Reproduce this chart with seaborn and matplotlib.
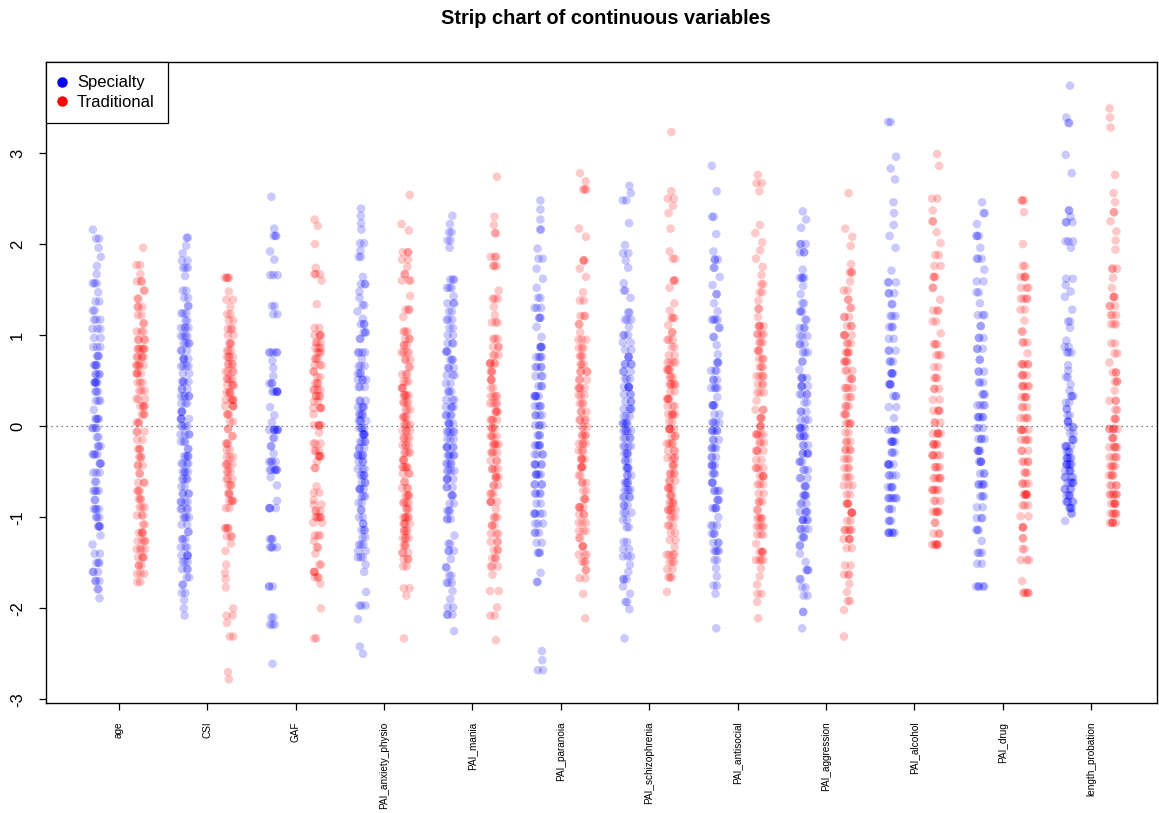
import numpy as np
import pandas as pd
import matplotlib
matplotlib.use("Agg")
import matplotlib.pyplot as plt
import seaborn as sns
from matplotlib.lines import Line2D

plt.rcParams["font.family"] = ["Liberation Sans", "DejaVu Sans"]

variables = ["age", "CSI", "GAF", "PAI_anxiety_physio", "PAI_mania", "PAI_paranoia",
             "PAI_schizophrenia", "PAI_antisocial", "PAI_aggression", "PAI_alcohol",
             "PAI_drug", "length_probation"]
groups = ["Specialty", "Traditional"]
colors = {"Specialty": "#0000ff", "Traditional": "#ff0000"}

# standardized values (levels) and how many points sit at each level
age_spec_y = [2.16, 2.06, 1.96, 1.86, 1.76, 1.67, 1.57, 1.47, 1.37, 1.27, 1.17, 1.07, 0.97, 0.87, 0.77,
              0.67, 0.57, 0.48, 0.38, 0.28, 0.18, 0.08, -0.02, -0.12, -0.22, -0.31, -0.41, -0.51, -0.61, -0.71,
              -0.81, -0.91, -1.0, -1.1, -1.2, -1.3, -1.4, -1.5, -1.6, -1.7, -1.79, -1.89]
age_spec_n = [1, 2, 1, 1, 1, 1, 3, 1, 2, 2, 3, 3, 2, 3, 3,
              4, 4, 5, 3, 3, 1, 4, 4, 2, 3, 4, 3, 3, 2, 4,
              2, 4, 3, 4, 1, 1, 2, 3, 3, 3, 2, 1]
age_trad_y = [1.96, 1.77, 1.67, 1.59, 1.49, 1.40, 1.31, 1.22, 1.13, 1.04, 0.95, 0.85, 0.76, 0.67, 0.58,
              0.48, 0.39, 0.30, 0.22, 0.13, 0.04, -0.06, -0.15, -0.25, -0.34, -0.43, -0.52, -0.62, -0.71, -0.80,
              -0.89, -0.98, -1.08, -1.17, -1.26, -1.35, -1.44, -1.53, -1.62, -1.71]
age_trad_n = [1, 2, 1, 3, 2, 2, 3, 2, 2, 3, 4, 6, 5, 5, 4,
              3, 3, 3, 4, 3, 3, 3, 2, 3, 3, 3, 2, 3, 3, 3,
              3, 3, 2, 4, 4, 4, 4, 3, 3, 2]

csi_spec_y = [2.07, 1.98, 1.90, 1.82, 1.74, 1.65, 1.49, 1.41, 1.32, 1.24, 1.16, 1.08, 0.99, 0.91, 0.83,
              0.74, 0.66, 0.58, 0.49, 0.41, 0.33, 0.25, 0.16, 0.08, 0.0, -0.09, -0.17, -0.25, -0.33, -0.41,
              -0.50, -0.58, -0.66, -0.74, -0.83, -0.91, -1.0, -1.08, -1.16, -1.24, -1.33, -1.42, -1.49, -1.57, -1.66,
              -1.74, -1.83, -1.91, -2.0, -2.08]
csi_spec_n = [2, 1, 1, 2, 3, 1, 2, 2, 2, 3, 2, 4, 4, 4, 3,
              4, 4, 2, 4, 3, 5, 3, 3, 4, 4, 4, 3, 2, 4, 4,
              4, 4, 2, 4, 4, 4, 4, 2, 2, 3, 3, 4, 3, 3, 2,
              2, 2, 1, 1, 1]
csi_trad_y = [1.63, 1.48, 1.39, 1.31, 1.23, 1.16, 1.07, 1.0, 0.91, 0.83, 0.76, 0.68, 0.60, 0.52, 0.45,
              0.37, 0.29, 0.22, 0.13, 0.05, -0.03, -0.11, -0.19, -0.26, -0.34, -0.42, -0.50, -0.58, -0.65, -0.74,
              -0.82, -0.90, -1.12, -1.21, -1.29, -1.37, -1.52, -1.61, -1.68, -1.77, -2.0, -2.08, -2.16, -2.31, -2.70,
              -2.78]
csi_trad_n = [4, 1, 2, 1, 2, 2, 3, 2, 3, 3, 4, 4, 4, 4, 4,
              4, 5, 4, 3, 2, 2, 2, 3, 2, 3, 4, 3, 3, 3, 3,
              4, 2, 4, 3, 1, 1, 1, 1, 1, 1, 1, 2, 1, 2, 1,
              1]

gaf_spec_y = [2.52, 2.17, 2.09, 1.92, 1.83, 1.66, 1.32, 1.23, 0.81, 0.72, 0.64, 0.55, 0.47, 0.38, 0.21,
              0.12, 0.04, -0.04, -0.13, -0.22, -0.30, -0.39, -0.48, -0.56, -0.65, -0.82, -0.90, -1.24, -1.33, -1.76,
              -2.10, -2.18, -2.61]
gaf_spec_n = [1, 1, 3, 1, 1, 3, 2, 2, 5, 1, 1, 1, 3, 6, 1,
              1, 1, 7, 2, 2, 1, 4, 6, 1, 1, 1, 4, 3, 4, 3,
              2, 3, 1]
gaf_trad_y = [2.27, 2.20, 2.0, 1.74, 1.67, 1.60, 1.34, 1.08, 1.0, 0.92, 0.86, 0.81, 0.74, 0.67, 0.60,
              0.54, 0.47, 0.40, 0.33, 0.27, 0.20, 0.13, 0.01, -0.07, -0.19, -0.27, -0.33, -0.39, -0.46, -0.66,
              -0.73, -0.81, -0.86, -0.93, -1.0, -1.06, -1.20, -1.26, -1.33, -1.40, -1.52, -1.60, -1.66, -1.73, -2.0,
              -2.33]
gaf_trad_n = [1, 1, 1, 1, 3, 1, 1, 2, 4, 3, 3, 3, 3, 3, 2,
              2, 3, 4, 4, 2, 4, 1, 5, 1, 3, 3, 4, 1, 2, 1,
              2, 1, 2, 3, 5, 2, 3, 1, 2, 1, 2, 3, 3, 1, 1,
              2]

anx_spec_y = [2.39, 2.31, 2.23, 2.16, 2.01, 1.93, 1.86, 1.64, 1.56, 1.48, 1.41, 1.33, 1.26, 1.18, 1.12,
              1.03, 0.96, 0.81, 0.74, 0.66, 0.58, 0.51, 0.43, 0.28, 0.21, 0.13, 0.06, -0.02, -0.09, -0.17,
              -0.24, -0.32, -0.39, -0.47, -0.54, -0.62, -0.69, -0.77, -0.84, -0.92, -1.0, -1.07, -1.14, -1.22, -1.30,
              -1.37, -1.44, -1.52, -1.60, -1.82, -1.97, -2.12, -2.42, -2.50]
anx_spec_n = [1, 1, 1, 1, 2, 1, 2, 1, 3, 1, 1, 2, 1, 1, 3,
              3, 2, 4, 1, 3, 3, 4, 3, 3, 4, 4, 4, 4, 5, 4,
              3, 5, 3, 3, 4, 3, 4, 3, 2, 2, 2, 2, 3, 2, 3,
              2, 3, 1, 1, 1, 3, 1, 1, 1]
anx_trad_y = [2.54, 2.22, 2.15, 1.91, 1.83, 1.75, 1.67, 1.60, 1.43, 1.28, 1.20, 1.04, 0.96, 0.89, 0.81,
              0.73, 0.65, 0.57, 0.49, 0.42, 0.34, 0.26, 0.18, 0.10, 0.02, -0.05, -0.13, -0.21, -0.29, -0.37,
              -0.45, -0.52, -0.61, -0.68, -0.76, -0.84, -0.91, -1.0, -1.07, -1.15, -1.23, -1.31, -1.39, -1.46, -1.54,
              -1.78, -1.86, -2.33]
anx_trad_n = [1, 1, 1, 3, 2, 1, 2, 3, 1, 3, 1, 3, 3, 3, 4,
              3, 2, 3, 3, 3, 5, 4, 3, 4, 4, 4, 4, 4, 4, 3,
              5, 3, 2, 3, 4, 4, 3, 5, 4, 4, 4, 3, 3, 3, 2,
              2, 1, 1]

mania_spec_y = [2.31, 2.22, 2.13, 2.04, 1.96, 1.61, 1.52, 1.43, 1.35, 1.26, 1.17, 1.08, 1.0, 0.91, 0.82,
                0.73, 0.64, 0.56, 0.47, 0.38, 0.29, 0.21, 0.12, 0.03, -0.06, -0.14, -0.23, -0.32, -0.41, -0.49,
                -0.58, -0.67, -0.76, -0.85, -0.93, -1.02, -1.20, -1.29, -1.37, -1.46, -1.55, -1.64, -1.72, -1.81, -1.90,
                -1.99, -2.07, -2.25]
mania_spec_n = [1, 1, 2, 2, 1, 3, 3, 1, 3, 2, 3, 2, 2, 3, 3,
                3, 3, 3, 2, 3, 3, 4, 4, 4, 5, 3, 5, 5, 4, 4,
                4, 3, 3, 2, 3, 3, 1, 2, 3, 1, 2, 2, 3, 1, 1,
                2, 3, 1]
mania_trad_y = [2.74, 2.30, 2.21, 2.12, 1.86, 1.76, 1.49, 1.40, 1.31, 1.22, 1.14, 0.96, 0.87, 0.78, 0.69,
                0.60, 0.51, 0.42, 0.33, 0.25, 0.16, 0.07, -0.02, -0.11, -0.20, -0.29, -0.38, -0.47, -0.56, -0.65,
                -0.74, -0.83, -0.91, -1.0, -1.09, -1.18, -1.27, -1.36, -1.45, -1.54, -1.63, -1.81, -1.99, -2.08, -2.35]
mania_trad_n = [1, 1, 1, 2, 3, 3, 1, 3, 1, 1, 3, 3, 3, 3, 5,
                3, 3, 2, 4, 4, 4, 4, 4, 4, 5, 4, 3, 4, 4, 3,
                3, 4, 1, 3, 3, 3, 3, 3, 3, 3, 1, 2, 1, 2, 1]

para_spec_y = [2.48, 2.38, 2.27, 2.16, 1.95, 1.84, 1.73, 1.62, 1.52, 1.41, 1.30, 1.19, 1.09, 0.98, 0.87,
               0.76, 0.65, 0.55, 0.44, 0.33, 0.22, 0.12, 0.01, -0.10, -0.21, -0.31, -0.42, -0.53, -0.64, -0.74,
               -0.85, -0.96, -1.07, -1.17, -1.28, -1.39, -1.61, -1.71, -2.47, -2.57, -2.68]
para_spec_n = [1, 1, 1, 2, 1, 2, 1, 1, 1, 2, 3, 3, 1, 1, 4,
               4, 4, 3, 3, 5, 4, 4, 4, 3, 5, 4, 5, 5, 4, 4,
               2, 5, 3, 3, 2, 3, 1, 2, 1, 1, 2]
para_trad_y = [2.78, 2.69, 2.60, 2.17, 2.08, 1.82, 1.73, 1.64, 1.47, 1.38, 1.21, 1.12, 1.03, 0.95, 0.86,
               0.77, 0.68, 0.60, 0.51, 0.42, 0.34, 0.25, 0.16, 0.07, -0.01, -0.10, -0.19, -0.27, -0.36, -0.45,
               -0.54, -0.62, -0.71, -0.80, -0.89, -0.97, -1.06, -1.15, -1.23, -1.32, -1.41, -1.49, -1.58, -1.67, -1.84,
               -2.11]
para_trad_n = [1, 1, 3, 1, 1, 3, 1, 1, 1, 2, 3, 2, 1, 3, 3,
               3, 3, 4, 3, 4, 3, 3, 3, 4, 3, 4, 4, 3, 4, 4,
               2, 3, 2, 3, 4, 3, 3, 3, 2, 3, 3, 3, 2, 2, 1,
               1]

schiz_spec_y = [2.64, 2.56, 2.48, 2.23, 1.99, 1.90, 1.82, 1.74, 1.57, 1.49, 1.41, 1.25, 1.17, 1.09, 1.0,
                0.92, 0.84, 0.76, 0.68, 0.60, 0.52, 0.43, 0.35, 0.27, 0.19, 0.11, 0.03, -0.05, -0.13, -0.22,
                -0.30, -0.38, -0.46, -0.54, -0.62, -0.70, -0.78, -0.87, -0.95, -1.03, -1.11, -1.27, -1.35, -1.43, -1.52,
                -1.60, -1.68, -1.76, -1.84, -1.93, -2.01, -2.33]
schiz_spec_n = [1, 1, 2, 1, 1, 2, 1, 1, 1, 2, 1, 2, 3, 1, 3,
                2, 2, 3, 4, 3, 3, 5, 3, 3, 4, 3, 5, 5, 4, 4,
                4, 3, 4, 3, 4, 4, 4, 3, 3, 2, 2, 2, 2, 3, 1,
                1, 3, 1, 1, 2, 1, 1]
schiz_trad_y = [3.23, 2.58, 2.50, 2.42, 2.34, 2.17, 1.92, 1.84, 1.60, 1.52, 1.35, 1.27, 1.19, 1.11, 1.03,
                0.95, 0.87, 0.78, 0.70, 0.62, 0.54, 0.46, 0.38, 0.30, 0.22, 0.13, 0.05, -0.03, -0.11, -0.19,
                -0.27, -0.35, -0.43, -0.52, -0.60, -0.68, -0.76, -0.84, -0.92, -1.0, -1.09, -1.17, -1.25, -1.33, -1.41,
                -1.49, -1.57, -1.66, -1.82]
schiz_trad_n = [1, 1, 2, 1, 1, 1, 1, 2, 3, 1, 1, 1, 3, 1, 2,
                3, 2, 2, 4, 4, 3, 5, 2, 4, 3, 5, 2, 5, 3, 4,
                3, 4, 3, 4, 3, 4, 3, 4, 5, 3, 3, 2, 2, 1, 4,
                3, 2, 3, 1]

anti_spec_y = [2.86, 2.58, 2.30, 2.11, 1.92, 1.83, 1.74, 1.64, 1.55, 1.45, 1.35, 1.26, 1.17, 1.08, 0.98,
               0.89, 0.79, 0.70, 0.61, 0.51, 0.42, 0.32, 0.23, 0.13, 0.04, -0.05, -0.15, -0.24, -0.34, -0.43,
               -0.52, -0.62, -0.71, -0.81, -0.90, -1.0, -1.09, -1.18, -1.28, -1.37, -1.47, -1.56, -1.65, -1.75, -1.84,
               -2.22]
anti_spec_n = [1, 1, 2, 1, 1, 3, 2, 1, 1, 2, 1, 1, 4, 2, 2,
               1, 1, 3, 3, 3, 4, 1, 4, 2, 4, 5, 3, 4, 3, 4,
               3, 3, 4, 3, 4, 1, 3, 3, 3, 4, 2, 1, 1, 2, 1,
               1]
anti_trad_y = [2.76, 2.67, 2.58, 2.21, 2.12, 2.02, 1.93, 1.84, 1.75, 1.66, 1.56, 1.47, 1.38, 1.29, 1.20,
               1.10, 1.01, 0.92, 0.83, 0.74, 0.65, 0.55, 0.46, 0.37, 0.28, 0.18, 0.09, 0.0, -0.09, -0.18,
               -0.27, -0.37, -0.46, -0.55, -0.64, -0.74, -0.83, -0.92, -1.01, -1.10, -1.19, -1.29, -1.38, -1.47, -1.56,
               -1.65, -1.74, -1.84, -1.93, -2.11]
anti_trad_n = [1, 2, 1, 1, 1, 1, 1, 1, 1, 1, 2, 2, 1, 2, 1,
               4, 4, 3, 3, 3, 3, 4, 3, 3, 1, 3, 3, 3, 5, 3,
               4, 2, 4, 4, 3, 2, 3, 2, 4, 4, 3, 1, 4, 4, 1,
               1, 1, 2, 1, 1]

aggr_spec_y = [2.36, 2.27, 2.18, 2.0, 1.91, 1.72, 1.63, 1.54, 1.45, 1.35, 1.26, 1.17, 1.08, 0.99, 0.90,
               0.81, 0.71, 0.62, 0.53, 0.44, 0.35, 0.26, 0.16, 0.07, -0.02, -0.11, -0.21, -0.30, -0.39, -0.48,
               -0.57, -0.66, -0.76, -0.85, -0.94, -1.03, -1.13, -1.22, -1.31, -1.40, -1.49, -1.58, -1.68, -1.77, -1.86,
               -2.04, -2.22]
aggr_spec_n = [1, 1, 1, 3, 3, 1, 4, 1, 1, 2, 3, 2, 3, 3, 3,
               3, 2, 1, 4, 4, 4, 2, 3, 3, 5, 5, 3, 5, 3, 3,
               3, 3, 4, 3, 4, 5, 4, 3, 2, 1, 1, 3, 2, 2, 2,
               2, 1]
aggr_trad_y = [2.56, 2.17, 2.08, 1.98, 1.78, 1.69, 1.59, 1.49, 1.39, 1.30, 1.20, 1.10, 1.0, 0.91, 0.81,
               0.71, 0.61, 0.52, 0.42, 0.32, 0.22, 0.13, 0.03, -0.07, -0.17, -0.26, -0.36, -0.46, -0.56, -0.65,
               -0.75, -0.85, -0.95, -1.04, -1.14, -1.24, -1.34, -1.53, -1.63, -1.73, -1.82, -1.92, -2.02, -2.31]
aggr_trad_n = [1, 1, 1, 1, 1, 3, 1, 2, 2, 2, 3, 3, 4, 3, 4,
               4, 3, 3, 4, 3, 3, 3, 4, 2, 3, 4, 3, 3, 3, 3,
               2, 4, 4, 2, 5, 4, 2, 2, 3, 1, 1, 2, 1, 1]

alc_spec_y = [3.34, 2.96, 2.83, 2.71, 2.46, 2.34, 2.21, 2.09, 1.96, 1.71, 1.58, 1.46, 1.34, 1.21, 1.09,
              0.96, 0.83, 0.71, 0.58, 0.46, 0.33, 0.21, 0.09, -0.04, -0.17, -0.29, -0.42, -0.54, -0.67, -0.79,
              -0.91, -1.04, -1.17]
alc_spec_n = [2, 1, 1, 1, 1, 1, 1, 1, 1, 1, 3, 3, 2, 3, 3,
              2, 3, 3, 4, 4, 3, 2, 1, 5, 5, 3, 5, 4, 4, 6,
              3, 3, 6]
alc_trad_y = [2.99, 2.86, 2.50, 2.37, 2.25, 2.13, 2.01, 1.88, 1.76, 1.64, 1.52, 1.39, 1.27, 1.15, 1.02,
              0.90, 0.78, 0.65, 0.53, 0.41, 0.29, 0.17, 0.04, -0.08, -0.20, -0.32, -0.45, -0.57, -0.70, -0.82,
              -0.94, -1.06, -1.18, -1.30]
alc_trad_n = [1, 1, 2, 1, 2, 1, 1, 2, 2, 3, 2, 1, 3, 2, 1,
              3, 3, 2, 3, 3, 2, 4, 3, 5, 5, 5, 4, 5, 5, 3,
              5, 2, 3, 6]

drug_spec_y = [2.46, 2.34, 2.22, 2.09, 1.96, 1.84, 1.72, 1.59, 1.47, 1.35, 1.22, 1.10, 0.97, 0.85, 0.73,
               0.60, 0.48, 0.35, 0.23, 0.10, -0.02, -0.14, -0.27, -0.39, -0.52, -0.64, -0.77, -0.89, -1.01, -1.14,
               -1.26, -1.39, -1.51, -1.76]
drug_spec_n = [1, 2, 1, 3, 1, 3, 1, 2, 2, 1, 3, 2, 3, 3, 2,
               3, 3, 3, 4, 5, 3, 4, 4, 4, 3, 5, 3, 2, 3, 3,
               1, 3, 2, 5]
drug_trad_y = [2.48, 2.35, 2.0, 1.76, 1.64, 1.52, 1.40, 1.28, 1.16, 1.04, 0.92, 0.80, 0.68, 0.56, 0.44,
               0.32, 0.21, 0.09, -0.04, -0.15, -0.27, -0.39, -0.51, -0.63, -0.75, -0.87, -0.99, -1.11, -1.23, -1.35,
               -1.47, -1.70, -1.83]
drug_trad_n = [3, 1, 1, 2, 4, 3, 4, 2, 1, 2, 3, 1, 5, 4, 5,
               4, 3, 4, 5, 4, 3, 4, 3, 4, 6, 3, 2, 3, 2, 2,
               3, 1, 5]

len_spec_y = [3.74, 3.39, 3.33, 2.98, 2.78, 2.37, 2.30, 2.24, 2.03, 1.96, 1.62, 1.55, 1.48, 1.42, 1.28,
              1.15, 1.08, 0.94, 0.87, 0.81, 0.67, 0.61, 0.54, 0.46, 0.39, 0.33, 0.26, 0.19, 0.12, 0.05,
              -0.01, -0.08, -0.15, -0.22, -0.28, -0.35, -0.42, -0.49, -0.56, -0.62, -0.69, -0.76, -0.83, -0.90, -0.96,
              -1.04]
len_spec_n = [1, 1, 2, 1, 1, 2, 1, 3, 3, 1, 2, 1, 1, 1, 1,
              2, 1, 1, 2, 3, 1, 1, 2, 1, 1, 3, 2, 2, 2, 3,
              3, 2, 3, 4, 3, 5, 6, 4, 4, 5, 4, 4, 5, 4, 2,
              1]
len_trad_y = [3.49, 3.39, 3.28, 2.76, 2.56, 2.46, 2.35, 2.25, 2.14, 2.04, 1.94, 1.73, 1.63, 1.52, 1.42,
              1.32, 1.22, 1.12, 0.91, 0.80, 0.70, 0.59, 0.49, 0.39, 0.28, 0.18, 0.08, -0.03, -0.13, -0.23,
              -0.34, -0.44, -0.54, -0.65, -0.75, -0.85, -0.96, -1.06]
len_trad_n = [1, 1, 1, 1, 1, 1, 2, 1, 1, 1, 1, 3, 1, 1, 3,
              3, 3, 3, 2, 2, 1, 3, 3, 1, 3, 2, 3, 6, 3, 5,
              4, 4, 4, 4, 6, 5, 5, 5]

series = [
    ("age", age_spec_y, age_spec_n, age_trad_y, age_trad_n),
    ("CSI", csi_spec_y, csi_spec_n, csi_trad_y, csi_trad_n),
    ("GAF", gaf_spec_y, gaf_spec_n, gaf_trad_y, gaf_trad_n),
    ("PAI_anxiety_physio", anx_spec_y, anx_spec_n, anx_trad_y, anx_trad_n),
    ("PAI_mania", mania_spec_y, mania_spec_n, mania_trad_y, mania_trad_n),
    ("PAI_paranoia", para_spec_y, para_spec_n, para_trad_y, para_trad_n),
    ("PAI_schizophrenia", schiz_spec_y, schiz_spec_n, schiz_trad_y, schiz_trad_n),
    ("PAI_antisocial", anti_spec_y, anti_spec_n, anti_trad_y, anti_trad_n),
    ("PAI_aggression", aggr_spec_y, aggr_spec_n, aggr_trad_y, aggr_trad_n),
    ("PAI_alcohol", alc_spec_y, alc_spec_n, alc_trad_y, alc_trad_n),
    ("PAI_drug", drug_spec_y, drug_spec_n, drug_trad_y, drug_trad_n),
    ("length_probation", len_spec_y, len_spec_n, len_trad_y, len_trad_n),
]

frames = []
for var, sy, sn, ty, tn in series:
    for grp, ys, ns in (("Specialty", sy, sn), ("Traditional", ty, tn)):
        assert len(ys) == len(ns), (var, grp, len(ys), len(ns))
        vals = np.repeat(np.asarray(ys, float), np.asarray(ns, int))
        frames.append(pd.DataFrame({"cat": f"{var}|{grp}", "group": grp, "value": vals}))
df = pd.concat(frames, ignore_index=True)
order = [f"{v}|{g}" for v in variables for g in groups]

np.random.seed(7)
W, H = 1159, 813
fig = plt.figure(figsize=(W / 100, H / 100), dpi=100)
ax = fig.add_axes([46 / W, 1 - 703 / H, (1157 - 46) / W, (703 - 62) / H])

sns.stripplot(data=df, x="cat", y="value", hue="group", order=order, hue_order=groups,
              palette=colors, jitter=0.1, size=6.2, alpha=0.21, linewidth=0,
              legend=False, ax=ax, zorder=2)

ax.axhline(0, color="#555555", linestyle=(0, (1, 3)), linewidth=0.9, zorder=3)

ax.set_xlim(-1.145, 23.99)
ax.set_ylim(-3.04, 4.0)
ax.set_xlabel("")
ax.set_ylabel("")
ax.set_xticks(np.arange(len(variables)) * 2 + 0.5)
ax.set_xticklabels(variables, rotation=90, fontsize=7.2, ha="center", va="top")
ax.set_yticks(range(-3, 4))
ax.set_yticklabels([str(v) for v in range(-3, 4)], rotation=90, fontsize=12, va="center")
ax.tick_params(axis="both", direction="out", length=5, width=0.9, color="black")
ax.tick_params(axis="x", pad=8.5)
ax.tick_params(axis="y", pad=10)
for sp in ax.spines.values():
    sp.set_visible(True)
    sp.set_color("black")
    sp.set_linewidth(1.0)
ax.grid(False)
ax.set_facecolor("white")

handles = [Line2D([0], [0], marker="o", linestyle="none", markerfacecolor=colors[g],
                  markeredgecolor=colors[g], markersize=6.5, label=g) for g in groups]
leg = ax.legend(handles=handles, loc="upper left", bbox_to_anchor=(0, 1), borderaxespad=0,
                fontsize=12, frameon=True, fancybox=False, framealpha=1, edgecolor="black",
                borderpad=0.8, labelspacing=0.28, handlelength=0.3, handletextpad=0.75)
leg.get_frame().set_linewidth(0.9)

fig.text(606 / W, 1 - 18 / H, "Strip chart of continuous variables", ha="center", va="center",
         fontsize=14.4, fontweight="bold")

fig.savefig("out.png", dpi=100, facecolor="white")
